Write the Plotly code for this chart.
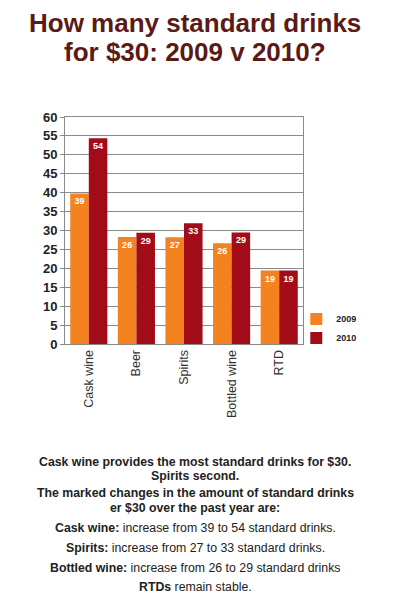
import plotly.graph_objects as go

categories = ["Cask wine", "Beer", "Spirits", "Bottled wine", "RTD"]
values_2009 = [39.8, 28.3, 28.2, 26.6, 19.4]
values_2010 = [54.4, 29.4, 31.9, 29.5, 19.4]
labels_2009 = ["39", "26", "27", "26", "19"]
labels_2010 = ["54", "29", "33", "29", "19"]
y_ticks = [0, 5, 10, 15, 20, 25, 30, 35, 40, 45, 50, 55, 60]

title_lines = ["How many standard drinks", "for $30: 2009 v 2010?"]
notes = [
    "<b>Cask wine provides the most standard drinks for $30.</b>",
    "<b>Spirits second.</b>",
    "<b>The marked changes in the amount of standard drinks</b>",
    "<b>er $30 over the past year are:</b>",
    "<b>Cask wine:</b> increase from 39 to 54 standard drinks.",
    "<b>Spirits:</b> increase from 27 to 33 standard drinks.",
    "<b>Bottled wine:</b> increase from 26 to 29 standard drinks",
    "<b>RTDs</b> remain stable.",
]

# page layout (reference pixel coordinates); page body has an 8px margin
OFF = 8
W, H = 398 - OFF, 600 - OFF
FONT = "Liberation Sans, Arial, sans-serif"
ORANGE = "#f58220"
DARKRED = "#a20c18"

plot_left, plot_right, plot_top, plot_bottom = 65 - OFF, 302.7 - OFF, 117.3 - OFF, 344 - OFF
ml, mr, mt, mb = plot_left, W - plot_right, plot_top, H - plot_bottom
pw = W - ml - mr
ph = H - mt - mb
center_x = 195 - OFF


def px_to_paper(x, y):
    return (x - ml) / pw, (H - mb - y) / ph


fig = go.Figure()
fig.add_trace(go.Bar(
    x=categories, y=values_2009, name="2009", marker_color=ORANGE,
    marker_line_width=0,
    text=labels_2009, textposition="inside", insidetextanchor="end",
    textangle=0, textfont=dict(color="white", size=9, family=FONT, weight="bold"),
))
fig.add_trace(go.Bar(
    x=categories, y=values_2010, name="2010", marker_color=DARKRED,
    marker_line_width=0,
    text=labels_2010, textposition="inside", insidetextanchor="end",
    textangle=0, textfont=dict(color="white", size=9, family=FONT, weight="bold"),
))

annotations = []
for t, yy in zip(title_lines, [23 - OFF, 52 - OFF]):
    ax, ay = px_to_paper(center_x, yy)
    annotations.append(dict(text="<b>%s</b>" % t, x=ax, y=ay,
                            xref="paper", yref="paper", showarrow=False,
                            xanchor="center", yanchor="middle",
                            font=dict(size=26, color="#5a1a15", family=FONT)))

note_y = [462, 476, 493, 508, 528, 548, 568, 587]
for t, yy in zip(notes, note_y):
    ax, ay = px_to_paper(center_x, yy - OFF)
    annotations.append(dict(
        text=t, xref="paper", yref="paper", x=ax, y=ay,
        showarrow=False, xanchor="center", yanchor="middle",
        font=dict(size=12.3, color="#222222", family=FONT),
    ))

lx, ly = px_to_paper(296 - OFF, 304.5 - OFF)

fig.update_layout(
    width=W, height=H,
    margin=dict(l=ml, r=mr, t=mt, b=mb, pad=0),
    paper_bgcolor="white", plot_bgcolor="white",
    barmode="group", bargap=0.22, bargroupgap=0,
    font=dict(family=FONT, color="#222222"),
    showlegend=True,
    legend=dict(x=lx, xanchor="left", y=ly, yanchor="top",
                font=dict(size=9, family=FONT, color="#222222", weight="bold"),
                itemwidth=30, bgcolor="rgba(0,0,0,0)", tracegroupgap=0),
    annotations=annotations,
    uniformtext=dict(minsize=8, mode="show"),
)
fig.update_yaxes(
    range=[0, 60], tickvals=y_ticks, ticktext=[str(v) for v in y_ticks],
    showgrid=True, gridcolor="#8a8a8a", gridwidth=1,
    showline=True, linecolor="#8a8a8a", linewidth=1, mirror=True,
    ticks="outside", ticklen=4, tickcolor="#8a8a8a",
    tickfont=dict(size=13, family=FONT, color="#222222", weight="bold"),
    zeroline=False, fixedrange=True,
)
fig.update_xaxes(
    showline=True, linecolor="#8a8a8a", linewidth=1, mirror=True,
    tickangle=-90, ticks="", showgrid=False,
    tickfont=dict(size=12.5, family=FONT, color="#333333"),
    fixedrange=True,
)

fig.write_html("out.html", config={"displayModeBar": False})
